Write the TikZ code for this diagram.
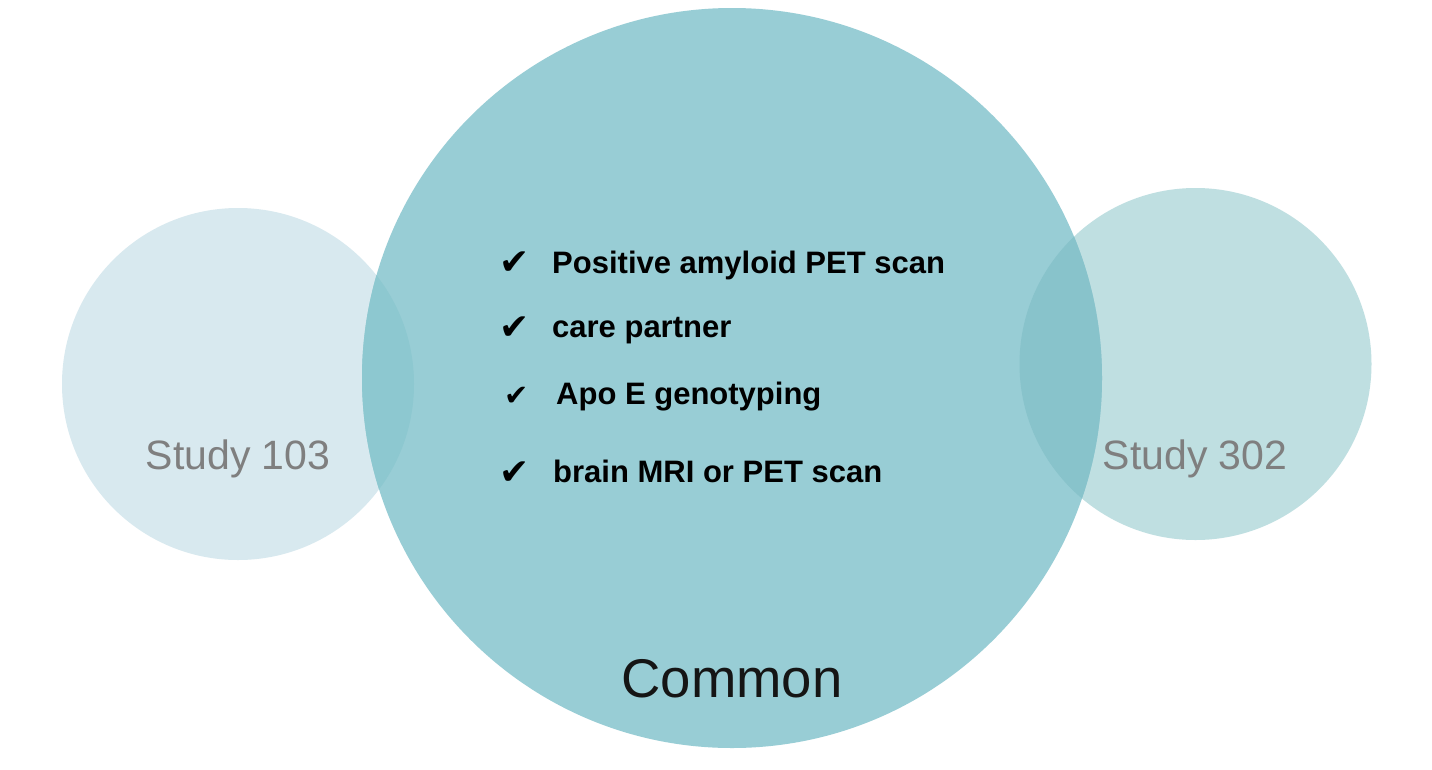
\documentclass[tikz,border=0pt]{standalone}
\usepackage{fontspec}
\setmainfont{Liberation Sans}
\newfontfamily\symfont{DejaVu Sans}
\definecolor{leftc}{HTML}{D8E9EF}
\definecolor{rightc}{HTML}{BFDFE1}
\definecolor{bigc}{HTML}{98CDD5}
\definecolor{ovl}{HTML}{8DC8D0}
\definecolor{ovr}{HTML}{88C3CB}
\definecolor{studygray}{HTML}{7F7F7F}
\definecolor{commonc}{HTML}{151515}
\tikzset{
  studylbl/.style={anchor=base, text=studygray, font=\fontsize{41}{41}\selectfont, inner sep=0pt},
  itemlbl/.style={anchor=base west, text=black, font=\bfseries\fontsize{31}{31}\selectfont, inner sep=0pt},
  checklbl/.style={anchor=base east, text=black, font=\symfont\fontsize{36}{36}\selectfont, inner sep=0pt},
  smallcheck/.style={checklbl, font=\symfont\fontsize{29}{29}\selectfont},
  commonlbl/.style={anchor=base, text=commonc, font=\fontsize{54.5}{54.5}\selectfont, inner sep=0pt}
}
\begin{document}
\begin{tikzpicture}[x=1pt,y=-1pt]
\useasboundingbox (0,0) rectangle (1432,769);
\fill[white] (0,0) rectangle (1432,769);
% circles
\fill[leftc] (238,384) circle[radius=176pt];
\fill[rightc] (1195.5,364) circle[radius=176pt];
\fill[bigc] (732,378) circle[radius=370pt];
\begin{scope}
  \clip (732,378) circle[radius=370pt];
  \fill[ovl] (238,384) circle[radius=176pt];
  \fill[ovr] (1195.5,364) circle[radius=176pt];
\end{scope}
% labels
\node[studylbl] (s103) at (238,469) {Study 103};
\node[studylbl] (s302) at (1195,469) {Study 302};
\node[commonlbl] (common) at (732,697) {Common};
% list
\node[checklbl] (c1) at (530,274) {✔};
\node[itemlbl] (t1) at (552,273) {Positive amyloid PET scan};
\node[checklbl] (c2) at (530,339) {✔};
\node[itemlbl] (t2) at (552,337) {care partner};
\node[smallcheck] (c3) at (529,405) {✔};
\node[itemlbl] (t3) at (556,404) {Apo E genotyping};
\node[checklbl] (c4) at (530,484) {✔};
\node[itemlbl] (t4) at (553,482) {brain MRI or PET scan};
\end{tikzpicture}
\end{document}
